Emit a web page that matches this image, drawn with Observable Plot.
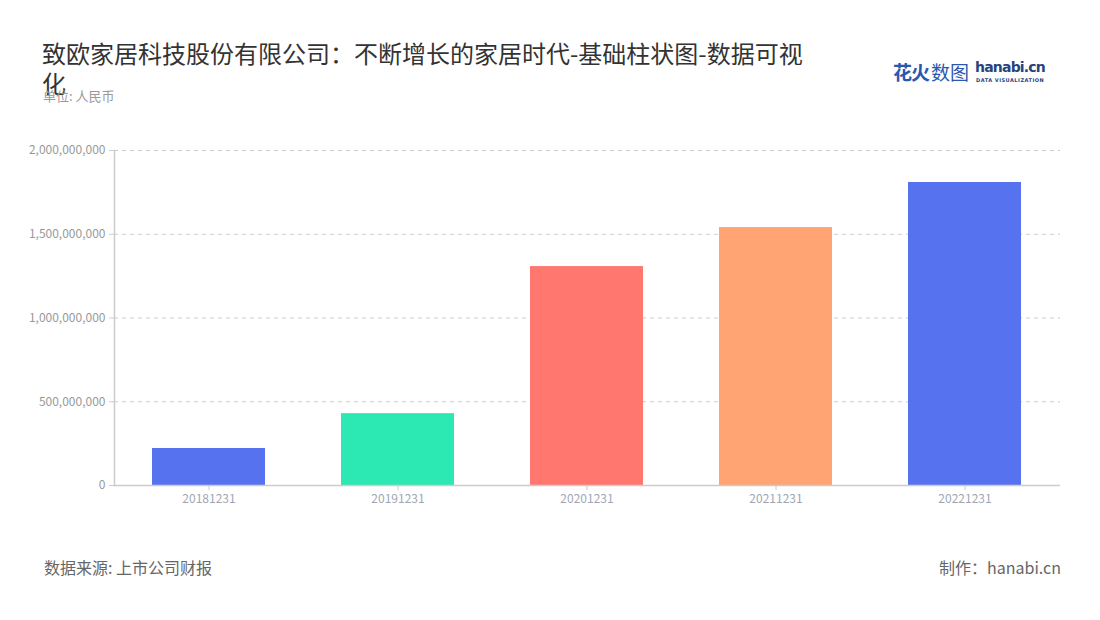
<!DOCTYPE html>
<html><head><meta charset="utf-8">
<script src="https://cdn.jsdelivr.net/npm/d3@7"></script>
<script src="https://cdn.jsdelivr.net/npm/@observablehq/plot@0.6"></script>
<style>
body{margin:0;background:#fff;font-family:"Noto Sans CJK SC","Noto Sans",sans-serif;}
#wrap{position:relative;width:1100px;height:620px;overflow:hidden;}
#title{position:absolute;left:42px;top:38px;width:775px;font-size:24px;line-height:30px;color:#333;}
#sub{position:absolute;left:43px;top:86px;font-size:13px;color:#999;}
#logo{position:absolute;left:893px;top:58px;width:180px;height:30px;white-space:nowrap;}
#logo span{position:absolute;white-space:nowrap;}
#chart{position:absolute;left:0;top:130px;}
#src{position:absolute;left:44px;top:555px;font-size:16px;color:#666;}
#made{position:absolute;right:39px;top:555px;font-size:16px;color:#666;}
</style></head><body>
<div id="wrap">
<div id="title">致欧家居科技股份有限公司：不断增长的家居时代-基础柱状图-数据可视化</div>
<div id="sub">单位: 人民币</div>
<div id="logo">
<span style="left:0;top:0;font-size:19px;font-weight:bold;color:#2a57b0;letter-spacing:-1px;">花火</span><span style="left:38px;top:0;font-size:19px;color:#2a57b0;">数图</span>
<span style="left:82px;top:1px;font-size:14px;font-weight:bold;color:#27437f;font-family:'DejaVu Sans';letter-spacing:-0.8px;">hanabi.cn</span>
<span style="left:83px;top:19px;font-size:5px;font-weight:bold;color:#27437f;font-family:'DejaVu Sans';letter-spacing:0.5px;">DATA VISUALIZATION</span>
</div>
<div id="chart"></div>
<div id="src">数据来源: 上市公司财报</div>
<div id="made">制作：hanabi.cn</div>
</div>
<script>
const years = ["20181231","20191231","20201231","20211231","20221231"];
const revenue = [221000000, 429000000, 1307000000, 1540000000, 1809000000];
const barColors = ["#5772ee","#2ce8b3","#ff776f","#ffa472","#5772ee"];
const yTicks = [0, 500000000, 1000000000, 1500000000, 2000000000];

const data = years.map((y,i)=>({year:y, value:revenue[i]}));
const fmt = d3.format(",");
const chart = Plot.plot({
  width:1100, height:390,
  marginLeft:114, marginRight:40, marginTop:20, marginBottom:35,
  style:{fontFamily:'"Noto Sans CJK SC","Noto Sans",sans-serif', fontSize:"12px", color:"#999", background:"transparent"},
  x:{domain:years, paddingInner:0.4, paddingOuter:0.2, label:null},
  y:{domain:[0,2000000000], label:null},
  color:{domain:years, range:barColors},
  marks:[
    Plot.gridY(yTicks,{stroke:"#ccc", strokeOpacity:1, strokeDasharray:"4,4"}),
    Plot.barY(data,{x:"year", y:"value", fill:"year"}),
    Plot.axisY(yTicks,{tickFormat:fmt, tickSize:5, tickPadding:4, stroke:"#ccc", fill:"#999", fontSize:12}),
    Plot.axisX({tickSize:5, tickPadding:4, stroke:"#ccc", fill:"#a0a6b4", fontSize:12}),
    Plot.ruleY([0],{stroke:"#ccc", strokeWidth:1.5}),
    Plot.frame({anchor:"left", stroke:"#ccc", strokeWidth:1.5})
  ]
});
document.getElementById("chart").appendChild(chart);
</script>
</body></html>
